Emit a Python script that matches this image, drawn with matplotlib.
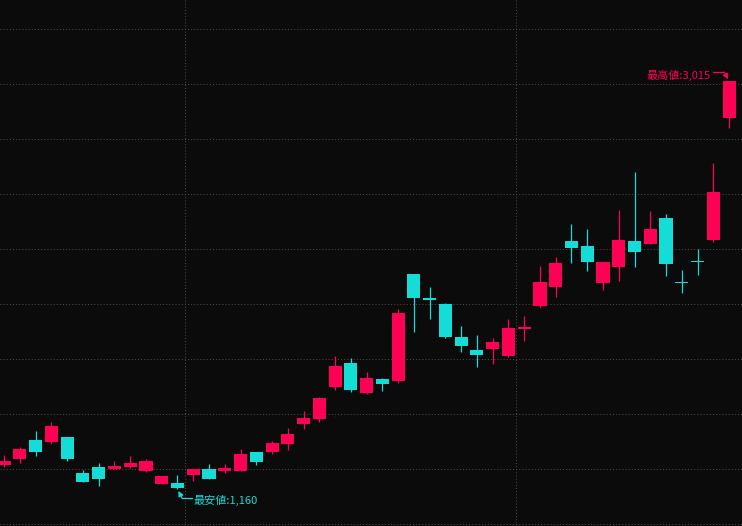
import matplotlib
matplotlib.use('Agg')
import matplotlib.pyplot as plt
from matplotlib.lines import Line2D
import numpy as np

opens  = [1271, 1298, 1383, 1376, 1397, 1233, 1261, 1251, 1261, 1242, 1183, 1188, 1224, 1251, 1242, 1242,
          1329, 1329, 1365, 1456, 1479, 1624, 1733, 1597, 1661, 1651, 2138, 2029, 2001, 1851, 1792, 1797,
          1765, 1888, 1992, 2079, 2288, 2265, 2097, 2170, 2288, 2274, 2392, 2101, 2197, 2292, 2848]
highs  = [1315, 1351, 1424, 1465, 1397, 1247, 1279, 1288, 1311, 1297, 1220, 1224, 1251, 1274, 1274, 1342,
          1329, 1379, 1438, 1515, 1579, 1765, 1756, 1692, 1665, 1979, 2138, 2079, 2006, 1901, 1861, 1847,
          1933, 1947, 2174, 2215, 2365, 2342, 2192, 2429, 2601, 2424, 2411, 2156, 2251, 2642, 3015]
lows   = [1262, 1280, 1312, 1366, 1289, 1194, 1176, 1251, 1256, 1238, 1183, 1160, 1197, 1206, 1233, 1242,
          1270, 1320, 1338, 1433, 1465, 1611, 1601, 1592, 1606, 1642, 1874, 1933, 1847, 1783, 1715, 1729,
          1761, 1833, 1983, 2033, 2188, 2151, 2065, 2106, 2170, 2274, 2129, 2051, 2133, 2283, 2803]
closes = [1288, 1342, 1330, 1447, 1298, 1194, 1207, 1265, 1279, 1288, 1220, 1165, 1251, 1206, 1256, 1320,
          1283, 1370, 1411, 1483, 1574, 1720, 1611, 1665, 1638, 1961, 2029, 2020, 1851, 1811, 1770, 1829,
          1892, 1897, 2101, 2188, 2256, 2192, 2192, 2292, 2238, 2342, 2183, 2097, 2192, 2511, 3015]

grid_y = [1000, 1250, 1500, 1750, 2000, 2250, 2500, 2750, 3000, 3250]
grid_x = [11.5, 32.5]

UP = '#FF0055'
DOWN = '#14DCD7'
BG = '#0B0B0B'
GRID = '#4a4a4a'

plt.rcParams['font.family'] = ['Noto Sans CJK JP', 'DejaVu Sans']

fig = plt.figure(figsize=(7.42, 5.26), dpi=100, facecolor=BG)
ax = fig.add_axes([0, 0, 1, 1])
ax.set_facecolor(BG)

o = np.array(opens, float); h = np.array(highs, float)
l = np.array(lows, float); c = np.array(closes, float)
x = np.arange(len(o))
colors = [UP if cc >= oo else DOWN for oo, cc in zip(o, c)]

for gy in grid_y:
    ax.axhline(gy, color=GRID, lw=0.75, ls=(0, (1, 2)), zorder=0)
for gx in grid_x:
    ax.axvline(gx, color=GRID, lw=0.75, ls=(0, (1, 2)), zorder=0)

ax.vlines(x, l, h, colors=colors, lw=0.9, zorder=2)
bottoms = np.minimum(o, c)
heights = np.maximum(np.abs(c - o), 4.5)
ax.bar(x, heights, bottom=bottoms, width=0.83, color=colors, linewidth=0, zorder=3)

ax.set_xlim(-0.263, 46.82)
ax.set_ylim(992.3, 3383.2)
for s in ax.spines.values():
    s.set_visible(False)
ax.set_xticks([]); ax.set_yticks([])

imax = int(np.argmax(h)); vmax = h[imax]
imin = int(np.argmin(l)); vmin = l[imin]
k = 0.72  # px -> points
fig.canvas.draw()

def off_line(xd, yd, pts, color):
    base = ax.transData.transform((xd, yd))
    xs = [base[0] + p[0] for p in pts]
    ys = [base[1] + p[1] for p in pts]
    fig.add_artist(Line2D(xs, ys, transform=None, color=color, lw=0.9))

def arrow(xd, yd, start, color):
    ax.annotate('', xy=(xd, yd), xytext=(start[0] * k, start[1] * k), textcoords='offset points',
                arrowprops=dict(arrowstyle='-|>,head_length=0.6,head_width=0.3', color=color, lw=0.9,
                                shrinkA=0, shrinkB=1.5, mutation_scale=5))

# highest
arrow(imax, vmax, (-5, 9), UP)
off_line(imax, vmax, [(-16, 9), (-5, 9)], UP)
ax.annotate(f'最高値:{int(vmax):,}', xy=(imax, vmax), xytext=(-18 * k, 6 * k),
            textcoords='offset points', ha='right', va='center', color=UP, fontsize=8)

# lowest
arrow(imin, vmin, (4.5, -9), DOWN)
off_line(imin, vmin, [(4.5, -9), (14.5, -9)], DOWN)
ax.annotate(f'最安値:{int(vmin):,}', xy=(imin, vmin), xytext=(16 * k, -11 * k),
            textcoords='offset points', ha='left', va='center', color=DOWN, fontsize=8)

fig.savefig('out.png', dpi=100, facecolor=BG)
